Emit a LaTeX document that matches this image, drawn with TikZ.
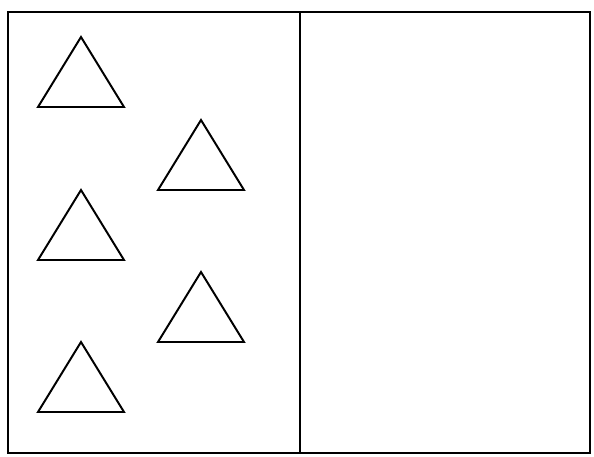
\documentclass[tikz,border=0pt]{standalone}
\usepackage{tikz}
\usetikzlibrary{calc}

\tikzset{
  frameline/.style={draw=black,line width=1.7pt},
  triline/.style={draw=black,line width=1.4pt,line join=miter}
}

\begin{document}
\begin{tikzpicture}[x=0.025cm,y=-0.025cm]
  \useasboundingbox (0,0) rectangle (594,456);
  % outer frame split in two halves
  \draw[frameline] (8,12) rectangle (590,453);
  \draw[frameline] (300,12) -- (300,453);
  % triangles in the left half: apex x, apex y
  \foreach \ax/\ay in {81/37, 201/120, 81/190, 201/272, 81/342}
    \draw[triline] (\ax,\ay) -- ($(\ax,\ay)+(43,70)$) -- ($(\ax,\ay)+(-43,70)$) -- cycle;
\end{tikzpicture}
\end{document}
